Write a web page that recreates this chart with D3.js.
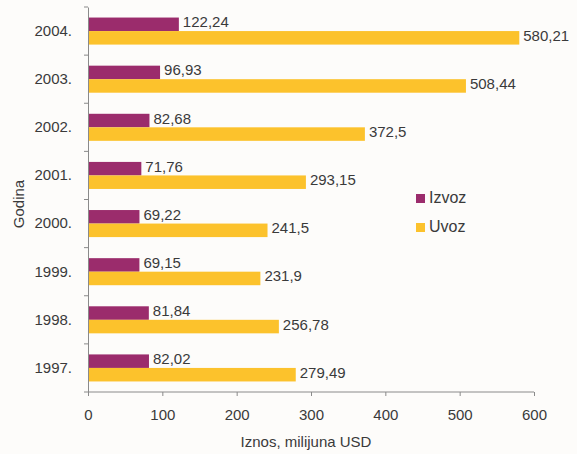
<!DOCTYPE html>
<html><head><meta charset="utf-8">
<script src="https://cdn.jsdelivr.net/npm/d3@7"></script>
<style>
body{margin:0;background:#fdfcfa;}
svg{display:block;font-family:"Liberation Sans",Arial,sans-serif;}
</style></head>
<body><svg id="c" width="577" height="454"></svg>
<script>
const years = ["2004.","2003.","2002.","2001.","2000.","1999.","1998.","1997."];
const izvoz = [122.24,96.93,82.68,71.76,69.22,69.15,81.84,82.02];
const uvoz  = [580.21,508.44,372.5,293.15,241.5,231.9,256.78,279.49];
const izvozLabels = ["122,24","96,93","82,68","71,76","69,22","69,15","81,84","82,02"];
const uvozLabels  = ["580,21","508,44","372,5","293,15","241,5","231,9","256,78","279,49"];
const xTicks = [0,100,200,300,400,500,600];
const seriesNames = ["Izvoz","Uvoz"];
const colors = ["#9b2c6c","#fcc22c"];

const svg = d3.select("#c");
const textCol = "#3a3a3a";
const axisCol = "#8a8a8a";
const fs = 15;

const x = d3.scaleLinear().domain([0,600]).range([88,534]);
const y = d3.scaleBand().domain(years).range([7,392]).paddingInner(0).paddingOuter(0);
const bandInner = d3.scaleBand().domain(seriesNames).range([0,y.bandwidth()]).paddingInner(0).paddingOuter(0.78);

const g = svg.append("g");
years.forEach((yr,i)=>{
  const vals=[izvoz[i],uvoz[i]];
  const labs=[izvozLabels[i],uvozLabels[i]];
  seriesNames.forEach((s,j)=>{
    const y0 = y(yr)+bandInner(s);
    g.append("rect").attr("x",x(0)).attr("y",y0)
      .attr("width",x(vals[j])-x(0)).attr("height",bandInner.bandwidth())
      .attr("fill",colors[j]);
    g.append("text").attr("x",x(vals[j])+4).attr("y",y0+bandInner.bandwidth()/2)
      .attr("dy","0.2em").attr("font-size",fs).attr("fill",textCol).text(labs[j]);
  });
});

const yAxis = svg.append("g").attr("transform",`translate(${x(0)},0)`)
  .call(d3.axisLeft(y).tickSize(0).tickPadding(16));
yAxis.select(".domain").attr("stroke",axisCol);
yAxis.selectAll("text").attr("font-size",fs).attr("fill",textCol).attr("font-family","Liberation Sans, Arial, sans-serif");
const seps = years.map(d=>y(d)).concat([y.range()[1]]);
yAxis.selectAll("line.sep").data(seps).enter().append("line").attr("class","sep")
  .attr("x1",-4).attr("x2",0).attr("y1",d=>d).attr("y2",d=>d).attr("stroke",axisCol);

const xAxis = svg.append("g").attr("transform",`translate(0,392)`)
  .call(d3.axisBottom(x).tickValues(xTicks).tickSize(4).tickPadding(13));
xAxis.select(".domain").attr("stroke",axisCol).attr("d",`M${x(0)},0H${x(600)}`);
xAxis.selectAll(".tick line").attr("stroke",axisCol);
xAxis.selectAll("text").attr("font-size",fs).attr("fill",textCol).attr("font-family","Liberation Sans, Arial, sans-serif");

svg.append("text").attr("x",306).attr("y",447).attr("text-anchor","middle")
  .attr("font-size",fs).attr("fill",textCol).text("Iznos, milijuna USD");
svg.append("text").attr("transform","translate(24,204) rotate(-90)").attr("text-anchor","middle")
  .attr("font-size",fs).attr("fill",textCol).text("Godina");

const leg = svg.append("g");
seriesNames.forEach((s,j)=>{
  leg.append("rect").attr("x",416).attr("y",194+j*29).attr("width",9).attr("height",9).attr("fill",colors[j]);
  leg.append("text").attr("x",429).attr("y",203+j*29).attr("font-size",16).attr("fill",textCol).text(s);
});
</script></body></html>
